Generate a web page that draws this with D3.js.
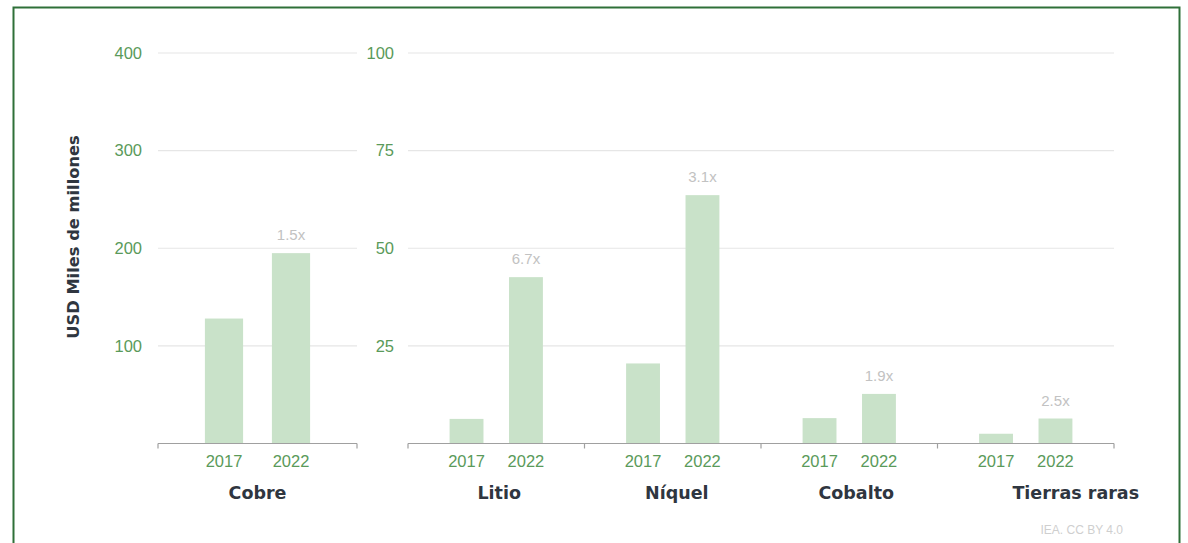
<!DOCTYPE html>
<html>
<head>
<meta charset="utf-8">
<script src="https://cdn.jsdelivr.net/npm/d3@7"></script>
<style>
  html, body { margin: 0; padding: 0; background: #ffffff; }
  svg { display: block; }
</style>
</head>
<body>
<svg id="chart" width="1188" height="543"></svg>
<script>
// Market size of key energy-transition minerals, 2017 vs 2022 (USD billions)
const categories = ["Cobre", "Litio", "Níquel", "Cobalto", "Tierras raras"];
const years = ["2017", "2022"];
const values2017 = [128, 6.3, 20.5, 6.5, 2.5];
const values2022 = [195, 42.6, 63.6, 12.7, 6.4];
const growthLabels = ["1.5x", "6.7x", "3.1x", "1.9x", "2.5x"];
const leftTicks = [100, 200, 300, 400];
const rightTicks = [25, 50, 75, 100];
const yAxisTitle = "USD Miles de millones";
const sourceNote = "IEA. CC BY 4.0";

const colors = {
  frame: "#2f7039",
  bar: "#c9e2c9",
  tick: "#5a9a5a",
  grid: "#e6e6e6",
  axis: "#a0a0a0",
  growth: "#c2c2c2",
  category: "#2f3640",
  source: "#cfcfcf"
};
const numFont = "'Liberation Sans', Arial, sans-serif";
const boldFont = "'DejaVu Sans', Verdana, sans-serif";

const svg = d3.select("#chart");

// outer frame
svg.append("rect")
  .attr("x", 13.5).attr("y", 7.5)
  .attr("width", 1166).attr("height", 560)
  .attr("fill", "none")
  .attr("stroke", colors.frame)
  .attr("stroke-width", 2);

const baseY = 443.5, topY = 53;

const rows = categories.map((c, i) => ({
  cat: c, i,
  vals: [values2017[i], values2022[i]],
  growth: growthLabels[i]
}));

// two panels: copper on its own scale, the rest share a 0-100 scale
const panels = [
  { rows: rows.slice(0, 1), x0: 158, x1: 357, max: 400, ticks: leftTicks, labelX: 142 },
  { rows: rows.slice(1), x0: 408, x1: 1114, max: 100, ticks: rightTicks, labelX: 394 }
];

// small horizontal nudges for the category names
const catNudge = { "Cobre": 0, "Litio": 3, "Níquel": 4, "Cobalto": 7, "Tierras raras": 50 };

panels.forEach(p => {
  const y = d3.scaleLinear().domain([0, p.max]).range([baseY, topY]);
  const xCat = d3.scaleBand().domain(p.rows.map(r => r.cat)).range([p.x0, p.x1]).padding(0);
  const xYear = d3.scaleBand().domain(years).range([0, xCat.bandwidth()])
    .paddingInner(0.43).paddingOuter(0.7);

  const g = svg.append("g");

  // gridlines
  g.selectAll("line.grid").data(p.ticks).enter().append("line")
    .attr("x1", p.x0).attr("x2", p.x1)
    .attr("y1", d => y(d)).attr("y2", d => y(d))
    .attr("stroke", colors.grid).attr("stroke-width", 1.2);

  // tick labels
  g.selectAll("text.tick").data(p.ticks).enter().append("text")
    .attr("x", p.labelX).attr("y", d => y(d))
    .attr("dy", "0.35em")
    .attr("text-anchor", "end")
    .attr("font-family", numFont).attr("font-size", 16.5)
    .attr("fill", colors.tick)
    .text(d => d);

  // bars
  const groups = g.selectAll("g.cat").data(p.rows).enter().append("g")
    .attr("transform", d => `translate(${xCat(d.cat)},0)`);

  groups.selectAll("rect").data(d => years.map((yr, k) => ({ yr, v: d.vals[k] })))
    .enter().append("rect")
    .attr("x", d => xYear(d.yr))
    .attr("width", xYear.bandwidth())
    .attr("y", d => y(d.v))
    .attr("height", d => baseY - y(d.v))
    .attr("fill", colors.bar);

  // growth multiplier above the 2022 bar
  groups.append("text")
    .attr("x", xYear("2022") + xYear.bandwidth() / 2)
    .attr("y", d => y(d.vals[1]) - 18)
    .attr("dy", "0.35em")
    .attr("text-anchor", "middle")
    .attr("font-family", numFont).attr("font-size", 15)
    .attr("fill", colors.growth)
    .text(d => d.growth);

  // year labels
  groups.selectAll("text.year").data(years).enter().append("text")
    .attr("x", d => xYear(d) + xYear.bandwidth() / 2)
    .attr("y", baseY + 18)
    .attr("dy", "0.35em")
    .attr("text-anchor", "middle")
    .attr("font-family", numFont).attr("font-size", 16.5)
    .attr("fill", colors.tick)
    .text(d => d);

  // category names
  groups.append("text")
    .attr("x", d => xCat.bandwidth() / 2 + catNudge[d.cat])
    .attr("y", baseY + 49)
    .attr("dy", "0.35em")
    .attr("text-anchor", "middle")
    .attr("font-family", boldFont).attr("font-weight", "bold").attr("font-size", 17.5)
    .attr("fill", colors.category)
    .text(d => d.cat);

  // baseline with ticks at the group boundaries
  g.append("line")
    .attr("x1", p.x0).attr("x2", p.x1)
    .attr("y1", baseY).attr("y2", baseY)
    .attr("stroke", colors.axis).attr("stroke-width", 1.2);
  const bounds = p.rows.map(r => xCat(r.cat)).concat([p.x1]);
  g.selectAll("line.tk").data(bounds).enter().append("line")
    .attr("x1", d => d).attr("x2", d => d)
    .attr("y1", baseY).attr("y2", baseY + 5)
    .attr("stroke", colors.axis).attr("stroke-width", 1.2);
});

// y-axis title
svg.append("text")
  .attr("transform", "translate(73,237) rotate(-90)")
  .attr("text-anchor", "middle")
  .attr("dy", "0.35em")
  .attr("font-family", boldFont).attr("font-weight", "bold").attr("font-size", 16.3)
  .attr("fill", colors.category)
  .text(yAxisTitle);

// source note
svg.append("text")
  .attr("x", 1123).attr("y", 530)
  .attr("dy", "0.35em")
  .attr("text-anchor", "end")
  .attr("font-family", numFont).attr("font-size", 12)
  .attr("fill", colors.source)
  .text(sourceNote);
</script>
</body>
</html>
